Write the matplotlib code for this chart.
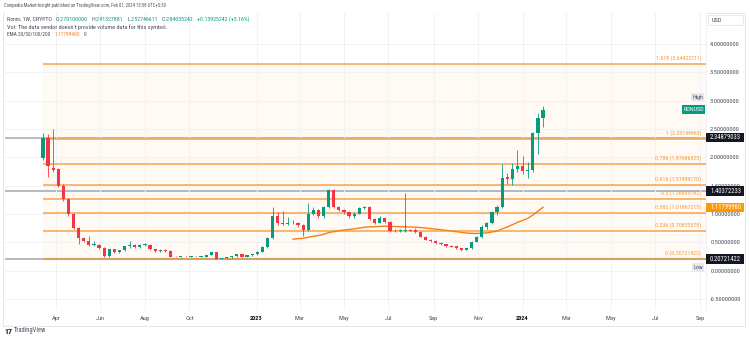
import numpy as np
import pandas as pd
import matplotlib
matplotlib.use("Agg")
import matplotlib.pyplot as plt
import matplotlib.dates as mdates
import matplotlib.transforms as mtrans
from matplotlib.patches import Rectangle
from matplotlib import font_manager as fm

# prefer a narrow sans face when one is installed
_names = {f.name for f in fm.fontManager.ttflist}
_narrow = [n for n in ("Liberation Sans Narrow", "Roboto Condensed", "Open Sans Condensed") if n in _names]
plt.rcParams['font.family'] = _narrow + ['Liberation Sans', 'DejaVu Sans']

# ---- weekly RON/USD candles (one per week, starting Monday) ----
week_start = "2022-03-14"
opens = [1.99, 2.34, 1.82, 1.79, 1.50, 1.26, 1.00, 0.75, 0.575, 0.525,
         0.45, 0.46, 0.40, 0.26, 0.38, 0.33, 0.36, 0.43, 0.45, 0.42,
         0.45, 0.46, 0.38, 0.345, 0.36, 0.355, 0.25, 0.248, 0.251, 0.247,
         0.249, 0.246, 0.248, 0.277, 0.325, 0.215, 0.22, 0.235, 0.259, 0.289,
         0.25, 0.27, 0.289, 0.336, 0.424, 0.572, 0.97, 0.84, 0.82, 0.85,
         0.84, 0.81, 0.72, 1.01, 1.07, 0.96, 1.12, 1.43, 1.13, 1.07,
         1.03, 0.96, 1.01, 1.11, 1.13, 0.91, 0.85, 0.93, 0.866, 0.71,
         0.705, 0.71, 0.715, 0.72, 0.68, 0.59, 0.545, 0.525, 0.495, 0.466,
         0.436, 0.43, 0.40, 0.37, 0.40, 0.51, 0.60, 0.78, 0.84, 1.03,
         1.13, 1.66, 1.62, 1.80, 1.855, 1.76, 1.77, 2.43, 2.701]
highs = [2.43, 2.42, 2.50, 1.82, 1.53, 1.28, 1.02, 0.77, 0.60, 0.61,
         0.53, 0.48, 0.42, 0.39, 0.39, 0.37, 0.44, 0.52, 0.47, 0.47,
         0.49, 0.47, 0.39, 0.38, 0.39, 0.37, 0.26, 0.26, 0.26, 0.26,
         0.26, 0.26, 0.285, 0.34, 0.33, 0.23, 0.24, 0.265, 0.30, 0.295,
         0.28, 0.30, 0.345, 0.44, 0.60, 1.13, 1.04, 1.05, 0.95, 0.89,
         0.86, 0.83, 1.19, 1.12, 1.09, 1.14, 1.45, 1.44, 1.15, 1.09,
         1.05, 1.03, 1.13, 1.15, 1.14, 0.93, 0.97, 0.95, 0.88, 0.73,
         0.74, 1.37, 0.74, 0.75, 0.70, 0.61, 0.56, 0.54, 0.51, 0.48,
         0.46, 0.44, 0.41, 0.41, 0.53, 0.62, 0.80, 0.86, 1.05, 1.16,
         1.89, 1.72, 1.90, 2.13, 2.02, 1.92, 2.45, 2.78, 2.91327881]
lows = [1.95, 1.66, 1.74, 1.48, 1.23, 0.97, 0.73, 0.47, 0.50, 0.43,
        0.43, 0.38, 0.24, 0.25, 0.32, 0.31, 0.35, 0.41, 0.41, 0.41,
        0.43, 0.37, 0.33, 0.33, 0.34, 0.24, 0.24, 0.24, 0.24, 0.24,
        0.24, 0.235, 0.24, 0.27, 0.20721422, 0.21, 0.215, 0.23, 0.25, 0.24,
        0.245, 0.26, 0.28, 0.33, 0.41, 0.56, 0.80, 0.80, 0.80, 0.82,
        0.78, 0.62, 0.70, 0.98, 0.94, 0.94, 1.10, 1.10, 1.05, 1.01,
        0.94, 0.94, 1.00, 1.09, 0.89, 0.83, 0.84, 0.85, 0.69, 0.69,
        0.69, 0.69, 0.70, 0.67, 0.59, 0.54, 0.51, 0.48, 0.45, 0.42,
        0.42, 0.38, 0.35, 0.36, 0.39, 0.50, 0.58, 0.74, 0.82, 0.98,
        1.10, 1.53, 1.51, 1.74, 1.70, 1.64, 1.74, 2.06, 2.52746611]
closes = [2.349, 1.84, 1.78, 1.50, 1.26, 1.00, 0.75, 0.575, 0.52, 0.45,
          0.46, 0.40, 0.26, 0.38, 0.33, 0.36, 0.43, 0.45, 0.42, 0.45,
          0.46, 0.38, 0.345, 0.36, 0.355, 0.25, 0.248, 0.251, 0.247, 0.249,
          0.246, 0.248, 0.277, 0.325, 0.215, 0.22, 0.235, 0.259, 0.289, 0.247,
          0.27, 0.289, 0.336, 0.424, 0.572, 0.97, 0.84, 0.82, 0.85, 0.84,
          0.81, 0.72, 1.01, 1.07, 0.96, 1.12, 1.43, 1.13, 1.07, 1.03,
          0.96, 1.01, 1.11, 1.13, 0.91, 0.85, 0.93, 0.866, 0.71, 0.705,
          0.71, 0.715, 0.71, 0.68, 0.60, 0.545, 0.525, 0.495, 0.466, 0.436,
          0.43, 0.40, 0.37, 0.40, 0.51, 0.60, 0.78, 0.84, 1.03, 1.13,
          1.64, 1.62, 1.80, 1.85, 1.76, 1.77, 2.43, 2.701, 2.84035242]

# Fibonacci retracement anchors and ratios
fib_low = 0.20721422
fib_high = 2.33144963
fib_ratios = [0, 0.236, 0.382, 0.5, 0.618, 0.786, 1, 1.618]

# horizontal price lines with their axis tags
price_lines = [2.34879033, 1.40372233, 0.20721422]

ema_period = 50
ema_last = 1.11799960
last_change = 0.13925242
last_change_pct = 5.16

y_ticks = [-0.5, 0.0, 0.5, 1.0, 1.5, 2.0, 2.5, 3.0, 3.5, 4.0]
month_ticks = ["2022-04-01", "2022-06-01", "2022-08-01", "2022-10-01", "2023-01-01",
               "2023-03-01", "2023-05-01", "2023-07-01", "2023-09-01", "2023-11-01",
               "2024-01-01", "2024-03-01", "2024-05-01", "2024-07-01", "2024-09-01"]
month_labels = ["Apr", "Jun", "Aug", "Oct", "2023", "Mar", "May", "Jul", "Sep", "Nov",
                "2024", "Mar", "May", "Jul", "Sep"]

GREEN = "#089981"
RED = "#f23645"
FIB = "#f7a54e"
FIB_TXT = "#f39a3a"
EMA_C = "#f57f17"
GRID = "#f0f2f6"
TXT = "#4a4e59"

W, H = 750, 339
fig = plt.figure(figsize=(W / 100, H / 100), dpi=100)
fig.patch.set_facecolor("white")
ax = fig.add_axes([5 / W, 1 - 310 / H, 701 / W, 297 / H])
ax.set_facecolor("white")

o = np.array(opens); h = np.array(highs); l = np.array(lows); c = np.array(closes)
dates = pd.date_range(week_start, periods=len(c), freq="7D")
xd = mdates.date2num(dates)

xmin = mdates.date2num(pd.Timestamp("2022-01-21"))
xmax = mdates.date2num(pd.Timestamp("2024-09-08 14:00"))
ax.set_xlim(xmin, xmax)
ax.set_ylim(-0.691, 4.546)

# grid and axes
ax.set_xticks(mdates.date2num(pd.to_datetime(month_ticks)))
ax.set_xticklabels(month_labels)
ax.set_yticks(y_ticks)
ax.set_yticklabels([f"{v:.8f}" for v in y_ticks])
ax.grid(True, color=GRID, lw=0.7, zorder=0)
ax.yaxis.tick_right()
ax.tick_params(axis="both", length=0, labelsize=4.6, colors=TXT)
ax.tick_params(axis="x", pad=4.2)
ax.tick_params(axis="y", pad=3.0)
for lab in ax.get_xticklabels():
    if lab.get_text() in ("2023", "2024"):
        lab.set_fontweight("bold")
        lab.set_color("#131722")
for s in ax.spines.values():
    s.set_visible(False)

# horizontal price lines (under the Fibonacci levels)
for pl in price_lines:
    ax.axhline(pl, color="#a3a6ad", lw=1.1, zorder=1.5)

# Fibonacci retracement
levels = [fib_low + r * (fib_high - fib_low) for r in fib_ratios]
ax.fill_between([xd[0], xmax], fib_low, max(levels), color="#ff9800", alpha=0.045, lw=0, zorder=1)
for r, lv in zip(fib_ratios, levels):
    ax.hlines(lv, xd[0], xmax, color=FIB if r else "#d9a060", lw=1.1 if r else 1.5, zorder=2)
    ax.annotate(f"{r:g} ({lv:.8f})", xy=(xmax, lv), xytext=(-3.5, 2.2), textcoords="offset points",
                ha="right", va="bottom", fontsize=4.2, color=FIB_TXT, zorder=6)

# EMA (seeded with a simple average, as the chart indicator does)
ema = np.full(len(c), np.nan)
ema[ema_period - 1] = c[:ema_period].mean()
alpha = 2 / (ema_period + 1)
for i in range(ema_period, len(c)):
    ema[i] = alpha * c[i] + (1 - alpha) * ema[i - 1]
ax.plot(xd, ema, color=EMA_C, lw=1.0, zorder=3)

# candles
up = c >= o
cols = np.where(up, GREEN, RED)
ax.vlines(xd, l, h, colors=cols, lw=0.6, zorder=4)
body = c - o
body = np.where(np.abs(body) < 0.014, np.where(up, 0.014, -0.014), body)
ax.bar(xd, body, bottom=o, width=4.4, color=cols, lw=0, zorder=5)

# price-axis tags
tf = mtrans.blended_transform_factory(fig.transFigure, ax.transData)
def axis_tag(val, text, fc, tc="white", x0=706, x1=744, hpx=9.5):
    hh = hpx / 56.7
    fig.add_artist(Rectangle((x0 / W, val - hh / 2), (x1 - x0) / W, hh, transform=tf,
                             facecolor=fc, edgecolor="none", zorder=10, clip_on=False))
    fig.text((x0 + 4) / W, val, text, transform=tf, fontsize=4.7, color=tc,
             va="center", ha="left", zorder=11)

for pl in price_lines:
    axis_tag(pl, f"{pl:.8f}", "#131722")
axis_tag(ema_last, f"{ema_last:.8f}", "#ff9800")

# symbol / high / low markers inside the pane
def pane_tag(val, text, fc, tc, x1=705, w=23, hpx=8.5, dy=0.0):
    hh = hpx / 56.7
    y = val + dy
    fig.add_artist(Rectangle(((x1 - w) / W, y - hh / 2), w / W, hh, transform=tf,
                             facecolor=fc, edgecolor="none", zorder=10, clip_on=False))
    fig.text((x1 - w / 2) / W, y, text, transform=tf, fontsize=4.3, color=tc,
             va="center", ha="center", zorder=11)

pane_tag(c[-1], "RONUSD", GREEN, "white", w=23)
pane_tag(max(h), "High", "#e3e6ec", TXT, x1=704, w=13, dy=8.5 / 56.7)
pane_tag(min(l), "Low", "#e3eaf5", TXT, x1=704, w=12, dy=-8.5 / 56.7)

# pane frame and currency box
fig.add_artist(Rectangle((3 / W, 1 - 326 / H), 742 / W, 313 / H, transform=fig.transFigure,
                         facecolor="none", edgecolor="#e3e6ec", lw=0.7, zorder=0))
fig.add_artist(plt.Line2D([706 / W, 706 / W], [1 - 310 / H, 1 - 13 / H], transform=fig.transFigure,
                          color="#eef0f4", lw=0.6))
fig.add_artist(Rectangle((708 / W, 1 - 25 / H), 35 / W, 10 / H, transform=fig.transFigure,
                         facecolor="white", edgecolor="#e3e6ec", lw=0.6, zorder=10))
fig.text(712 / W, 1 - 20 / H, "USD", fontsize=4.5, color=TXT, va="center", ha="left", zorder=11)

# header and legend: runs of coloured text laid out left to right, sized to a target width
renderer = fig.canvas.get_renderer()

def text_run(xp, yp, pieces, target_w, base=5.0, weight="normal"):
    """pieces: (text, colour, gap in pixels after it)"""
    arts = [fig.text(0, 0, s, fontsize=base, color=col, va="center", ha="left", fontweight=weight)
            for s, col, _ in pieces]
    widths = [a.get_window_extent(renderer).width for a in arts]
    gaps = sum(g for _, _, g in pieces[:-1])
    size = base * (target_w - gaps) / sum(widths)
    x = xp
    for a, (_, _, g) in zip(arts, pieces):
        a.set_fontsize(size)
        a.set_position((x / W, 1 - yp / H))
        x += a.get_window_extent(renderer).width + g
    return arts

text_run(4, 6, [("Coinpedia-Market-Insight published on TradingView.com, Feb 01, 2024 13:58 UTC+5:30", "#50535e", 0)], 166)
text_run(7, 19.5, [("Ronin, 1W, CRYPTO", TXT, 4),
                   ("O", TXT, 0.3), (f"{o[-1]:.8f}", GREEN, 4),
                   ("H", TXT, 0.3), (f"{h[-1]:.8f}", GREEN, 4),
                   ("L", TXT, 0.3), (f"{l[-1]:.8f}", GREEN, 4),
                   ("C", TXT, 0.3), (f"{c[-1]:.8f}", GREEN, 4),
                   (f"+{last_change:.8f} (+{last_change_pct:.2f}%)", GREEN, 0)], 245)
text_run(7, 27.5, [("Vol: The data vendor doesn't provide volume data for this symbol.", TXT, 0)], 165)
text_run(7, 34.5, [("EMA 20/50/100/200", TXT, 4), (f"{ema_last:.8f}", EMA_C, 4), ("0", TXT, 0)], 79)

# footer logo
text_run(4, 331, [("17", "#131722", 0)], 8, weight="bold")
text_run(14, 331, [("TradingView", "#50535e", 0)], 33)

fig.savefig("out.png", dpi=100, facecolor="white")
